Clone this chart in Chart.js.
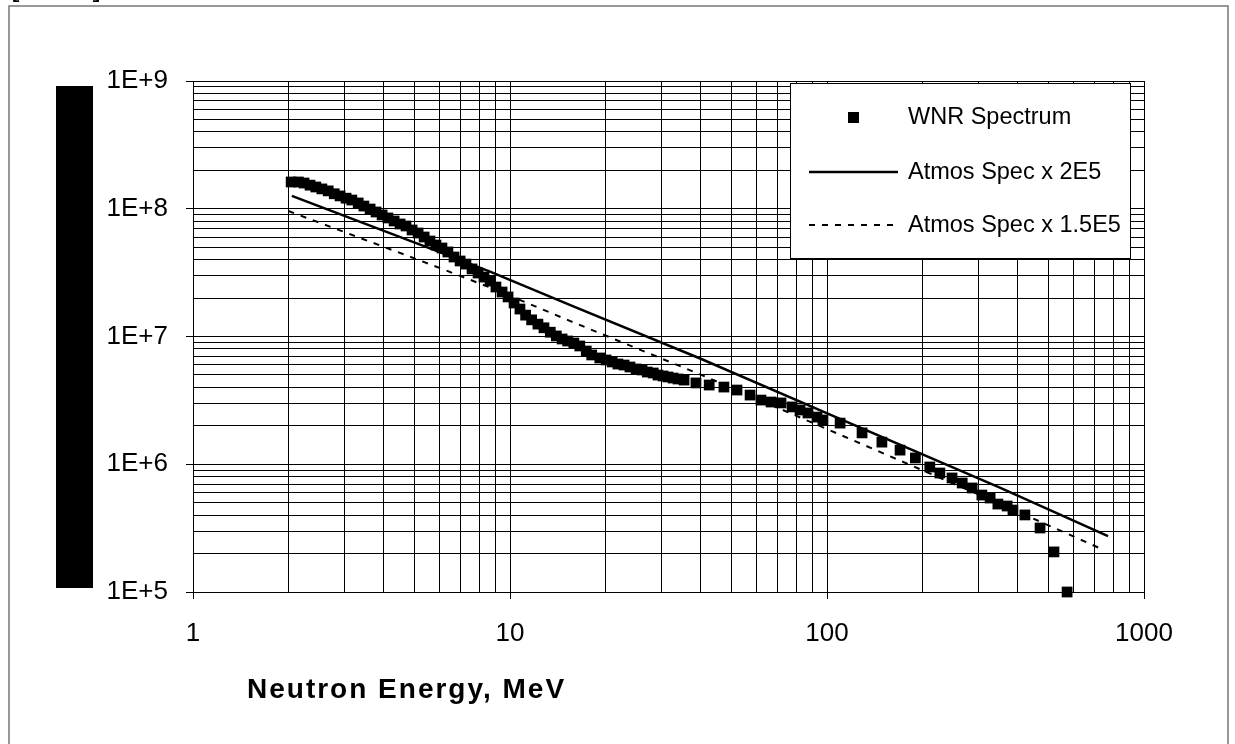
<!DOCTYPE html>
<html>
<head>
<meta charset="utf-8">
<script src="https://cdn.jsdelivr.net/npm/chart.js@4.4.1/dist/chart.umd.min.js"></script>
<style>
  html, body { margin: 0; padding: 0; background: #fff; }
  canvas { display: block; }
</style>
</head>
<body>
<canvas id="myChart" width="1235" height="744"></canvas>
<script>
// WNR measured spectrum (MeV, flux)
const energy = [2.04, 2.15, 2.24, 2.34, 2.44, 2.55, 2.67, 2.79, 2.91, 3.04,
  3.17, 3.32, 3.46, 3.62, 3.78, 3.95, 4.12, 4.31, 4.50, 4.70,
  4.91, 5.13, 5.36, 5.59, 5.84, 6.10, 6.37, 6.66, 6.96, 7.26,
  7.59, 7.93, 8.28, 8.65, 9.03, 9.44, 9.86, 10.3, 10.75, 11.2,
  11.7, 12.25, 12.8, 13.4, 14.0, 14.6, 15.2, 15.9, 16.6, 17.4,
  18.1, 19.2, 20.1, 21.0, 21.9, 22.9, 23.9, 25.0, 26.1, 27.1,
  28.3, 29.3, 30.4, 31.5, 32.7, 33.9, 35.4, 38.6, 42.5, 47.3,
  52.0, 57.2, 61.9, 66.6, 71.6, 77.6, 82.2, 87.1, 93.0, 97.1,
  110, 129, 149, 170, 190, 211, 227, 248, 267, 287,
  308, 327, 346, 370, 386, 421, 470, 520, 572];
const wnrFlux = [1.62e8, 1.62e8, 1.59e8, 1.53e8, 1.48e8, 1.43e8, 1.38e8, 1.31e8, 1.26e8, 1.21e8,
  1.17e8, 1.11e8, 1.05e8, 9.95e7, 9.43e7, 8.94e7, 8.47e7, 8.02e7, 7.60e7, 7.33e7,
  6.82e7, 6.46e7, 6.01e7, 5.59e7, 5.20e7, 4.93e7, 4.59e7, 4.19e7, 3.90e7, 3.69e7,
  3.38e7, 3.14e7, 2.92e7, 2.72e7, 2.44e7, 2.23e7, 2.04e7, 1.83e7, 1.64e7, 1.47e7,
  1.35e7, 1.25e7, 1.17e7, 1.08e7, 1.01e7, 9.56e6, 9.22e6, 8.89e6, 8.43e6, 7.70e6,
  7.17e6, 6.79e6, 6.55e6, 6.32e6, 6.09e6, 5.98e6, 5.77e6, 5.57e6, 5.47e6, 5.27e6,
  5.18e6, 4.99e6, 4.91e6, 4.82e6, 4.73e6, 4.65e6, 4.56e6, 4.33e6, 4.17e6, 4.02e6,
  3.81e6, 3.48e6, 3.18e6, 3.07e6, 3.02e6, 2.81e6, 2.66e6, 2.52e6, 2.34e6, 2.22e6,
  2.10e6, 1.76e6, 1.49e6, 1.29e6, 1.12e6, 9.52e5, 8.54e5, 7.81e5, 7.13e5, 6.52e5,
  5.74e5, 5.44e5, 4.88e5, 4.71e5, 4.38e5, 4.01e5, 3.17e5, 2.06e5, 1.0e5];

// atmospheric spectrum, two scalings
const atmosEnergy = [2.05, 5.59, 8.65, 15.5, 39.8, 118, 351, 770];
const atmos2E5 = [1.26e8, 4.90e7, 3.22e7, 1.76e7, 6.73e6, 2.10e6, 6.55e5, 2.74e5];
const atmosEnergyB = [2.0, 5.59, 8.65, 15.5, 39.8, 118, 351, 726];
const atmos15E5 = [9.6e7, 3.68e7, 2.42e7, 1.32e7, 5.05e6, 1.58e6, 4.91e5, 2.2e5];

const seriesNames = ['WNR Spectrum', 'Atmos Spec x 2E5', 'Atmos Spec x 1.5E5'];
const xTickLabels = ['1', '10', '100', '1000'];
const yTickLabels = ['1E+5', '1E+6', '1E+7', '1E+8', '1E+9'];
const xTitle = 'Neutron Energy, MeV';

const FONT = '"Liberation Sans", Arial, sans-serif';

const toPoints = (xs, ys) => xs.map((x, i) => ({ x: x, y: ys[i] }));

// gridlines at 1..9 x 10^p for each decade
const decadeTicks = (lo, hi) => {
  const t = [];
  for (let p = lo; p < hi; p++) {
    for (let m = 1; m < 10; m++) t.push({ value: m * Math.pow(10, p), major: m === 1 });
  }
  t.push({ value: Math.pow(10, hi), major: true });
  return t;
};

const framePlugin = {
  id: 'frame',
  beforeDraw(chart) {
    const ctx = chart.ctx;
    ctx.save();
    ctx.fillStyle = '#fff';
    ctx.fillRect(0, 0, chart.width, chart.height);
    ctx.strokeStyle = '#777';
    ctx.lineWidth = 1.5;
    ctx.strokeRect(9, 6, 1219, 760);
    ctx.fillStyle = '#000';
    ctx.font = '30px ' + FONT;
    ctx.textBaseline = 'alphabetic';
    ctx.fillText('[Chart]', 11, -4);
    // y axis title block
    ctx.fillRect(56, 86, 37, 502);
    ctx.restore();
  },
  afterDraw(chart) {
    const ctx = chart.ctx;
    ctx.save();
    // x axis title
    ctx.fillStyle = '#000';
    ctx.font = 'bold 28px ' + FONT;
    ctx.textBaseline = 'middle';
    ctx.textAlign = 'left';
    ctx.letterSpacing = '2px';
    ctx.fillText(xTitle, 247, 690);
    ctx.letterSpacing = '0px';

    // legend
    const lx = 790, ly = 83, lw = 340, lh = 175;
    ctx.fillStyle = '#fff';
    ctx.fillRect(lx, ly, lw, lh);
    ctx.strokeStyle = '#000';
    ctx.lineWidth = 1;
    ctx.strokeRect(lx + 0.5, ly + 0.5, lw, lh);
    const rows = [117, 172, 225];
    ctx.font = '23.5px ' + FONT;
    ctx.textAlign = 'left';
    ctx.textBaseline = 'middle';
    chart.data.datasets.forEach((ds, i) => {
      const y = rows[i];
      ctx.fillStyle = '#000';
      ctx.strokeStyle = '#000';
      if (ds.showLine === false) {
        ctx.fillRect(848, y - 5, 11, 11);
      } else {
        ctx.lineWidth = ds.borderWidth;
        ctx.setLineDash(ds.borderDash || []);
        ctx.beginPath();
        ctx.moveTo(809, y);
        ctx.lineTo(898, y);
        ctx.stroke();
        ctx.setLineDash([]);
      }
      ctx.fillText(ds.label, 908, y + 1);
    });
    ctx.restore();
  }
};

const axisCommon = {
  type: 'logarithmic',
  border: { display: true, color: '#000', width: 1 },
  grid: {
    color: '#000',
    lineWidth: 1,
    tickLength: 7,
    tickColor: (c) => (c.tick && c.tick.major ? '#000' : 'rgba(0,0,0,0)')
  }
};

new Chart(document.getElementById('myChart'), {
  type: 'scatter',
  data: {
    datasets: [
      {
        label: seriesNames[0],
        data: toPoints(energy, wnrFlux),
        showLine: false,
        pointStyle: 'rect',
        pointRadius: 7.6,
        pointBackgroundColor: '#000',
        pointBorderWidth: 0,
        borderColor: '#000',
        clip: false
      },
      {
        label: seriesNames[1],
        data: toPoints(atmosEnergy, atmos2E5),
        showLine: true,
        borderColor: '#000',
        borderWidth: 2.5,
        pointRadius: 0,
        tension: 0
      },
      {
        label: seriesNames[2],
        data: toPoints(atmosEnergyB, atmos15E5),
        showLine: true,
        borderColor: '#000',
        borderWidth: 2,
        borderDash: [6, 7],
        pointRadius: 0,
        tension: 0
      }
    ]
  },
  options: {
    responsive: false,
    animation: false,
    events: [],
    layout: { padding: { left: 0, top: 81, right: 91, bottom: 0 } },
    plugins: {
      legend: { display: false },
      tooltip: { enabled: false },
      title: { display: false }
    },
    scales: {
      x: Object.assign({}, axisCommon, {
        position: 'bottom',
        min: 1,
        max: 1000,
        afterBuildTicks: (s) => { s.ticks = decadeTicks(0, 3); },
        afterFit: (s) => { s.height = 152; },
        ticks: {
          autoSkip: false,
          maxRotation: 0,
          padding: 19,
          color: '#000',
          font: { family: FONT, size: 26 },
          callback: (v, i, ticks) => (ticks[i].major ? xTickLabels[Math.round(Math.log10(v))] : '')
        }
      }),
      y: Object.assign({}, axisCommon, {
        position: 'left',
        min: 1e5,
        max: 1e9,
        afterBuildTicks: (s) => { s.ticks = decadeTicks(5, 9); },
        afterFit: (s) => { s.width = 193; },
        ticks: {
          autoSkip: false,
          padding: 18,
          color: '#000',
          font: { family: FONT, size: 26 },
          callback: (v, i, ticks) => (ticks[i].major ? yTickLabels[Math.round(Math.log10(v)) - 5] : '')
        }
      })
    }
  },
  plugins: [framePlugin]
});
</script>
</body>
</html>
